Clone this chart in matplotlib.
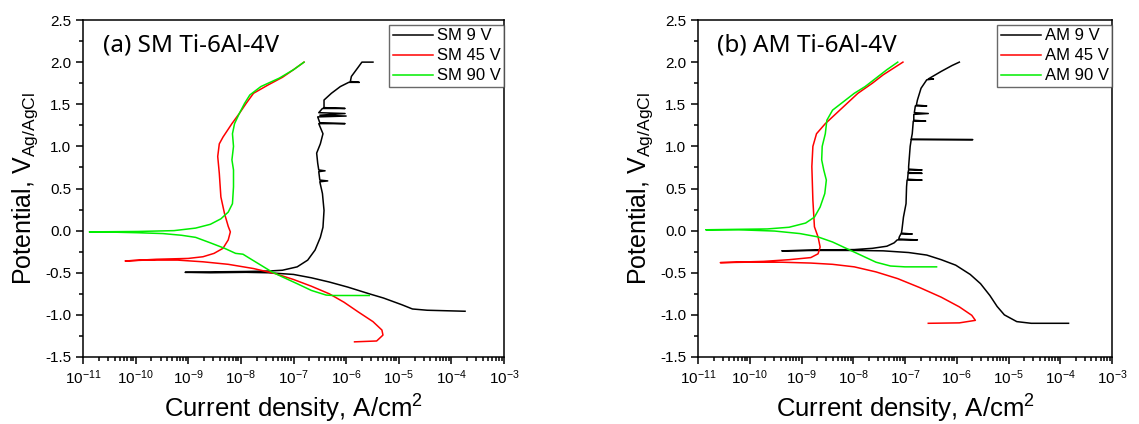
import numpy as np
import matplotlib
matplotlib.use('Agg')
import matplotlib.pyplot as plt
from matplotlib.ticker import MultipleLocator, LogLocator, LogFormatterMathtext, NullFormatter, FormatStrFormatter

plt.rcParams['font.family'] = ['Liberation Sans', 'DejaVu Sans']
plt.rcParams['mathtext.fontset'] = 'custom'
plt.rcParams['mathtext.rm'] = 'Liberation Sans'
plt.rcParams['mathtext.it'] = 'Liberation Sans:italic'
plt.rcParams['mathtext.bf'] = 'Liberation Sans:bold'

# values: log10(current density, A/cm2) and potential (V vs Ag/AgCl)
sm9_logi = [-3.74, -4.46, -4.74, -4.94, -5.29, -5.56, -5.97, -6.32, -6.66, -7.0, -7.48, -7.9, -8.58, -9.06,
            -8.6, -7.9, -7.48, -7.21, -6.93, -6.73, -6.59, -6.49, -6.44, -6.42, -6.45, -6.50, -6.35, -6.50,
            -6.52, -6.40, -6.52, -6.54, -6.56, -6.49, -6.44, -6.52, -6.02, -6.50, -6.54, -6.00, -6.50, -6.02,
            -6.52, -6.45, -6.02, -6.42, -6.42, -6.28, -6.11, -5.95, -5.75, -5.92, -5.90, -5.77, -5.70, -5.49]
sm9_E = [-0.957, -0.945, -0.93, -0.88, -0.80, -0.75, -0.67, -0.61, -0.56, -0.52, -0.50, -0.495, -0.50, -0.495,
         -0.49, -0.485, -0.48, -0.47, -0.43, -0.35, -0.23, -0.08, 0.04, 0.24, 0.44, 0.58, 0.59, 0.60,
         0.70, 0.71, 0.72, 0.80, 0.92, 1.03, 1.15, 1.27, 1.27, 1.28, 1.35, 1.36, 1.37, 1.39,
         1.40, 1.45, 1.45, 1.46, 1.55, 1.63, 1.71, 1.76, 1.76, 1.77, 1.83, 1.94, 2.0, 2.0]

sm45_logi = [-5.84, -5.42, -5.30, -5.32, -5.49, -5.77, -6.04, -6.32, -6.66, -7.0, -7.35, -7.76, -8.24, -8.72,
             -9.2, -9.82, -10.2, -9.61, -9.0, -8.72, -8.51, -8.34, -8.24, -8.2, -8.24, -8.31, -8.38, -8.41,
             -8.44, -8.41, -8.34, -8.17, -8.03, -7.9, -7.76, -7.48, -7.21, -7.0, -6.8]
sm45_E = [-1.32, -1.31, -1.24, -1.18, -1.08, -0.965, -0.85, -0.75, -0.66, -0.58, -0.51, -0.45, -0.40, -0.37,
          -0.35, -0.35, -0.36, -0.34, -0.33, -0.31, -0.27, -0.21, -0.11, -0.015, 0.05, 0.20, 0.40, 0.68,
          0.88, 1.03, 1.11, 1.27, 1.39, 1.51, 1.63, 1.73, 1.82, 1.91, 2.0]

sm90_logi = [-5.56, -6.25, -6.38, -6.66, -6.93, -7.21, -7.41, -7.62, -7.83, -7.96, -8.1, -8.31, -8.58, -8.86,
             -9.13, -9.48, -9.96, -10.64, -10.88, -9.96, -9.27, -8.86, -8.58, -8.38, -8.24, -8.16, -8.14,
             -8.14, -8.17, -8.14, -8.16, -8.12, -8.03, -7.93, -7.83, -7.62, -7.27, -7.0, -6.8]
sm90_E = [-0.77, -0.77, -0.765, -0.71, -0.63, -0.55, -0.49, -0.41, -0.33, -0.28, -0.27, -0.21, -0.145, -0.08,
          -0.055, -0.035, -0.025, -0.015, -0.015, -0.01, 0.0, 0.03, 0.075, 0.14, 0.22, 0.32, 0.52,
          0.72, 0.84, 1.0, 1.15, 1.27, 1.39, 1.51, 1.61, 1.71, 1.81, 1.91, 2.0]

am9_logi = [-3.84, -4.56, -4.84, -5.08, -5.22, -5.36, -5.54, -5.74, -6.02, -6.3, -6.58, -6.93, -7.42, -7.98,
            -8.68, -9.38, -8.68, -7.98, -7.63, -7.35, -7.21, -7.15, -6.76, -7.12, -7.11, -7.08, -6.86, -7.07,
            -7.06, -7.03, -6.98, -6.97, -6.96, -6.67, -6.95, -6.94, -6.67, -6.94, -6.93, -6.67, -6.93, -6.93,
            -6.9, -6.88, -5.69, -6.88, -6.86, -6.84, -6.6, -6.83, -6.83, -6.55, -6.82, -6.80, -6.58, -6.78,
            -6.76, -6.69, -6.58, -6.45, -6.55, -6.3, -6.09, -5.95]
am9_E = [-1.10, -1.10, -1.08, -1.0, -0.90, -0.77, -0.63, -0.52, -0.41, -0.345, -0.29, -0.26, -0.24, -0.235,
         -0.235, -0.24, -0.23, -0.225, -0.21, -0.185, -0.145, -0.11, -0.11, -0.10, -0.075, -0.04, -0.04, -0.03,
         0.005, 0.16, 0.32, 0.52, 0.60, 0.60, 0.61, 0.68, 0.68, 0.69, 0.72, 0.72, 0.73, 0.76,
         1.0, 1.08, 1.08, 1.085, 1.15, 1.30, 1.30, 1.31, 1.38, 1.39, 1.40, 1.48, 1.48, 1.49,
         1.55, 1.69, 1.79, 1.80, 1.80, 1.89, 1.96, 2.0]

am45_logi = [-6.55, -5.95, -5.64, -5.71, -5.95, -6.3, -6.72, -7.14, -7.56, -7.98, -8.4, -8.82, -9.38, -10.08,
             -10.57, -9.73, -9.24, -8.82, -8.68, -8.64, -8.68, -8.75, -8.78, -8.8, -8.78, -8.71, -8.54, -8.33,
             -8.12, -7.91, -7.63, -7.42, -7.04]
am45_E = [-1.10, -1.095, -1.065, -1.005, -0.905, -0.79, -0.675, -0.57, -0.49, -0.43, -0.40, -0.385, -0.375, -0.375,
          -0.38, -0.365, -0.345, -0.32, -0.275, -0.195, -0.075, 0.045, 0.36, 0.76, 1.0, 1.15, 1.27, 1.39,
          1.51, 1.63, 1.75, 1.85, 2.0]

am90_logi = [-6.39, -7.0, -7.28, -7.56, -7.84, -8.12, -8.4, -8.68, -9.03, -9.52, -10.22, -10.85, -10.29, -9.66,
             -9.24, -8.92, -8.75, -8.64, -8.55, -8.52, -8.57, -8.61, -8.6, -8.54, -8.51, -8.4, -8.19, -7.98,
             -7.77, -7.56, -7.35, -7.14]
am90_E = [-0.43, -0.43, -0.42, -0.375, -0.295, -0.215, -0.135, -0.075, -0.035, -0.005, 0.01, 0.01, 0.015, 0.02,
          0.04, 0.09, 0.16, 0.28, 0.44, 0.6, 0.72, 0.84, 1.0, 1.15, 1.31, 1.43, 1.53, 1.63,
          1.71, 1.81, 1.91, 2.0]

panels = [
    ('(a) SM Ti-6Al-4V', [('SM 9 V', sm9_logi, sm9_E), ('SM 45 V', sm45_logi, sm45_E), ('SM 90 V', sm90_logi, sm90_E)]),
    ('(b) AM Ti-6Al-4V', [('AM 9 V', am9_logi, am9_E), ('AM 45 V', am45_logi, am45_E), ('AM 90 V', am90_logi, am90_E)]),
]
colors = ['black', '#ff0000', '#00ee00']

fig = plt.figure(figsize=(11.39, 4.24), dpi=100)
rects = [[83 / 1139, 67 / 424, 421 / 1139, 337 / 424],
         [698 / 1139, 67 / 424, 414 / 1139, 337 / 424]]

for rect, (title, series) in zip(rects, panels):
    ax = fig.add_axes(rect)
    for (name, logi, E), c in zip(series, colors):
        ax.plot(np.power(10.0, logi), E, color=c, lw=1.1, label=name)
    ax.set_xscale('log')
    ax.set_xlim(1e-11, 1e-3)
    ax.set_ylim(-1.5, 2.5)
    ax.xaxis.set_major_locator(LogLocator(base=10, numticks=20))
    ax.xaxis.set_minor_locator(LogLocator(base=10, subs=np.arange(2, 10), numticks=20))
    ax.xaxis.set_major_formatter(LogFormatterMathtext())
    ax.xaxis.set_minor_formatter(NullFormatter())
    ax.yaxis.set_major_locator(MultipleLocator(0.5))
    ax.yaxis.set_minor_locator(MultipleLocator(0.25))
    ax.yaxis.set_major_formatter(FormatStrFormatter('%.1f'))
    ax.tick_params(which='both', direction='out', top=False, right=False, labelsize=11, width=1.1)
    ax.tick_params(which='major', length=5)
    ax.tick_params(which='minor', length=3)
    for s in ax.spines.values():
        s.set_linewidth(1.1)
    ax.text(0.047, 0.925, title, transform=ax.transAxes, fontsize=17.5, va='center', ha='left',
            family=['Noto Sans', 'DejaVu Sans'])
    ax.set_xlabel('Current density, A/cm$^2$', fontsize=18.5, labelpad=4)
    ax.set_ylabel('Potential, V$_{\\mathrm{Ag/AgCl}}$', fontsize=18, labelpad=4)
    leg = ax.legend(loc='upper right', bbox_to_anchor=(1.0, 1.0 - 5 / 337), fontsize=12,
                    frameon=True, fancybox=False, edgecolor='#444444', borderaxespad=0,
                    handlelength=2.4, handletextpad=0.25, labelspacing=0.3, borderpad=0.2)
    leg.get_frame().set_linewidth(1.0)

fig.savefig('out.png', dpi=100)
